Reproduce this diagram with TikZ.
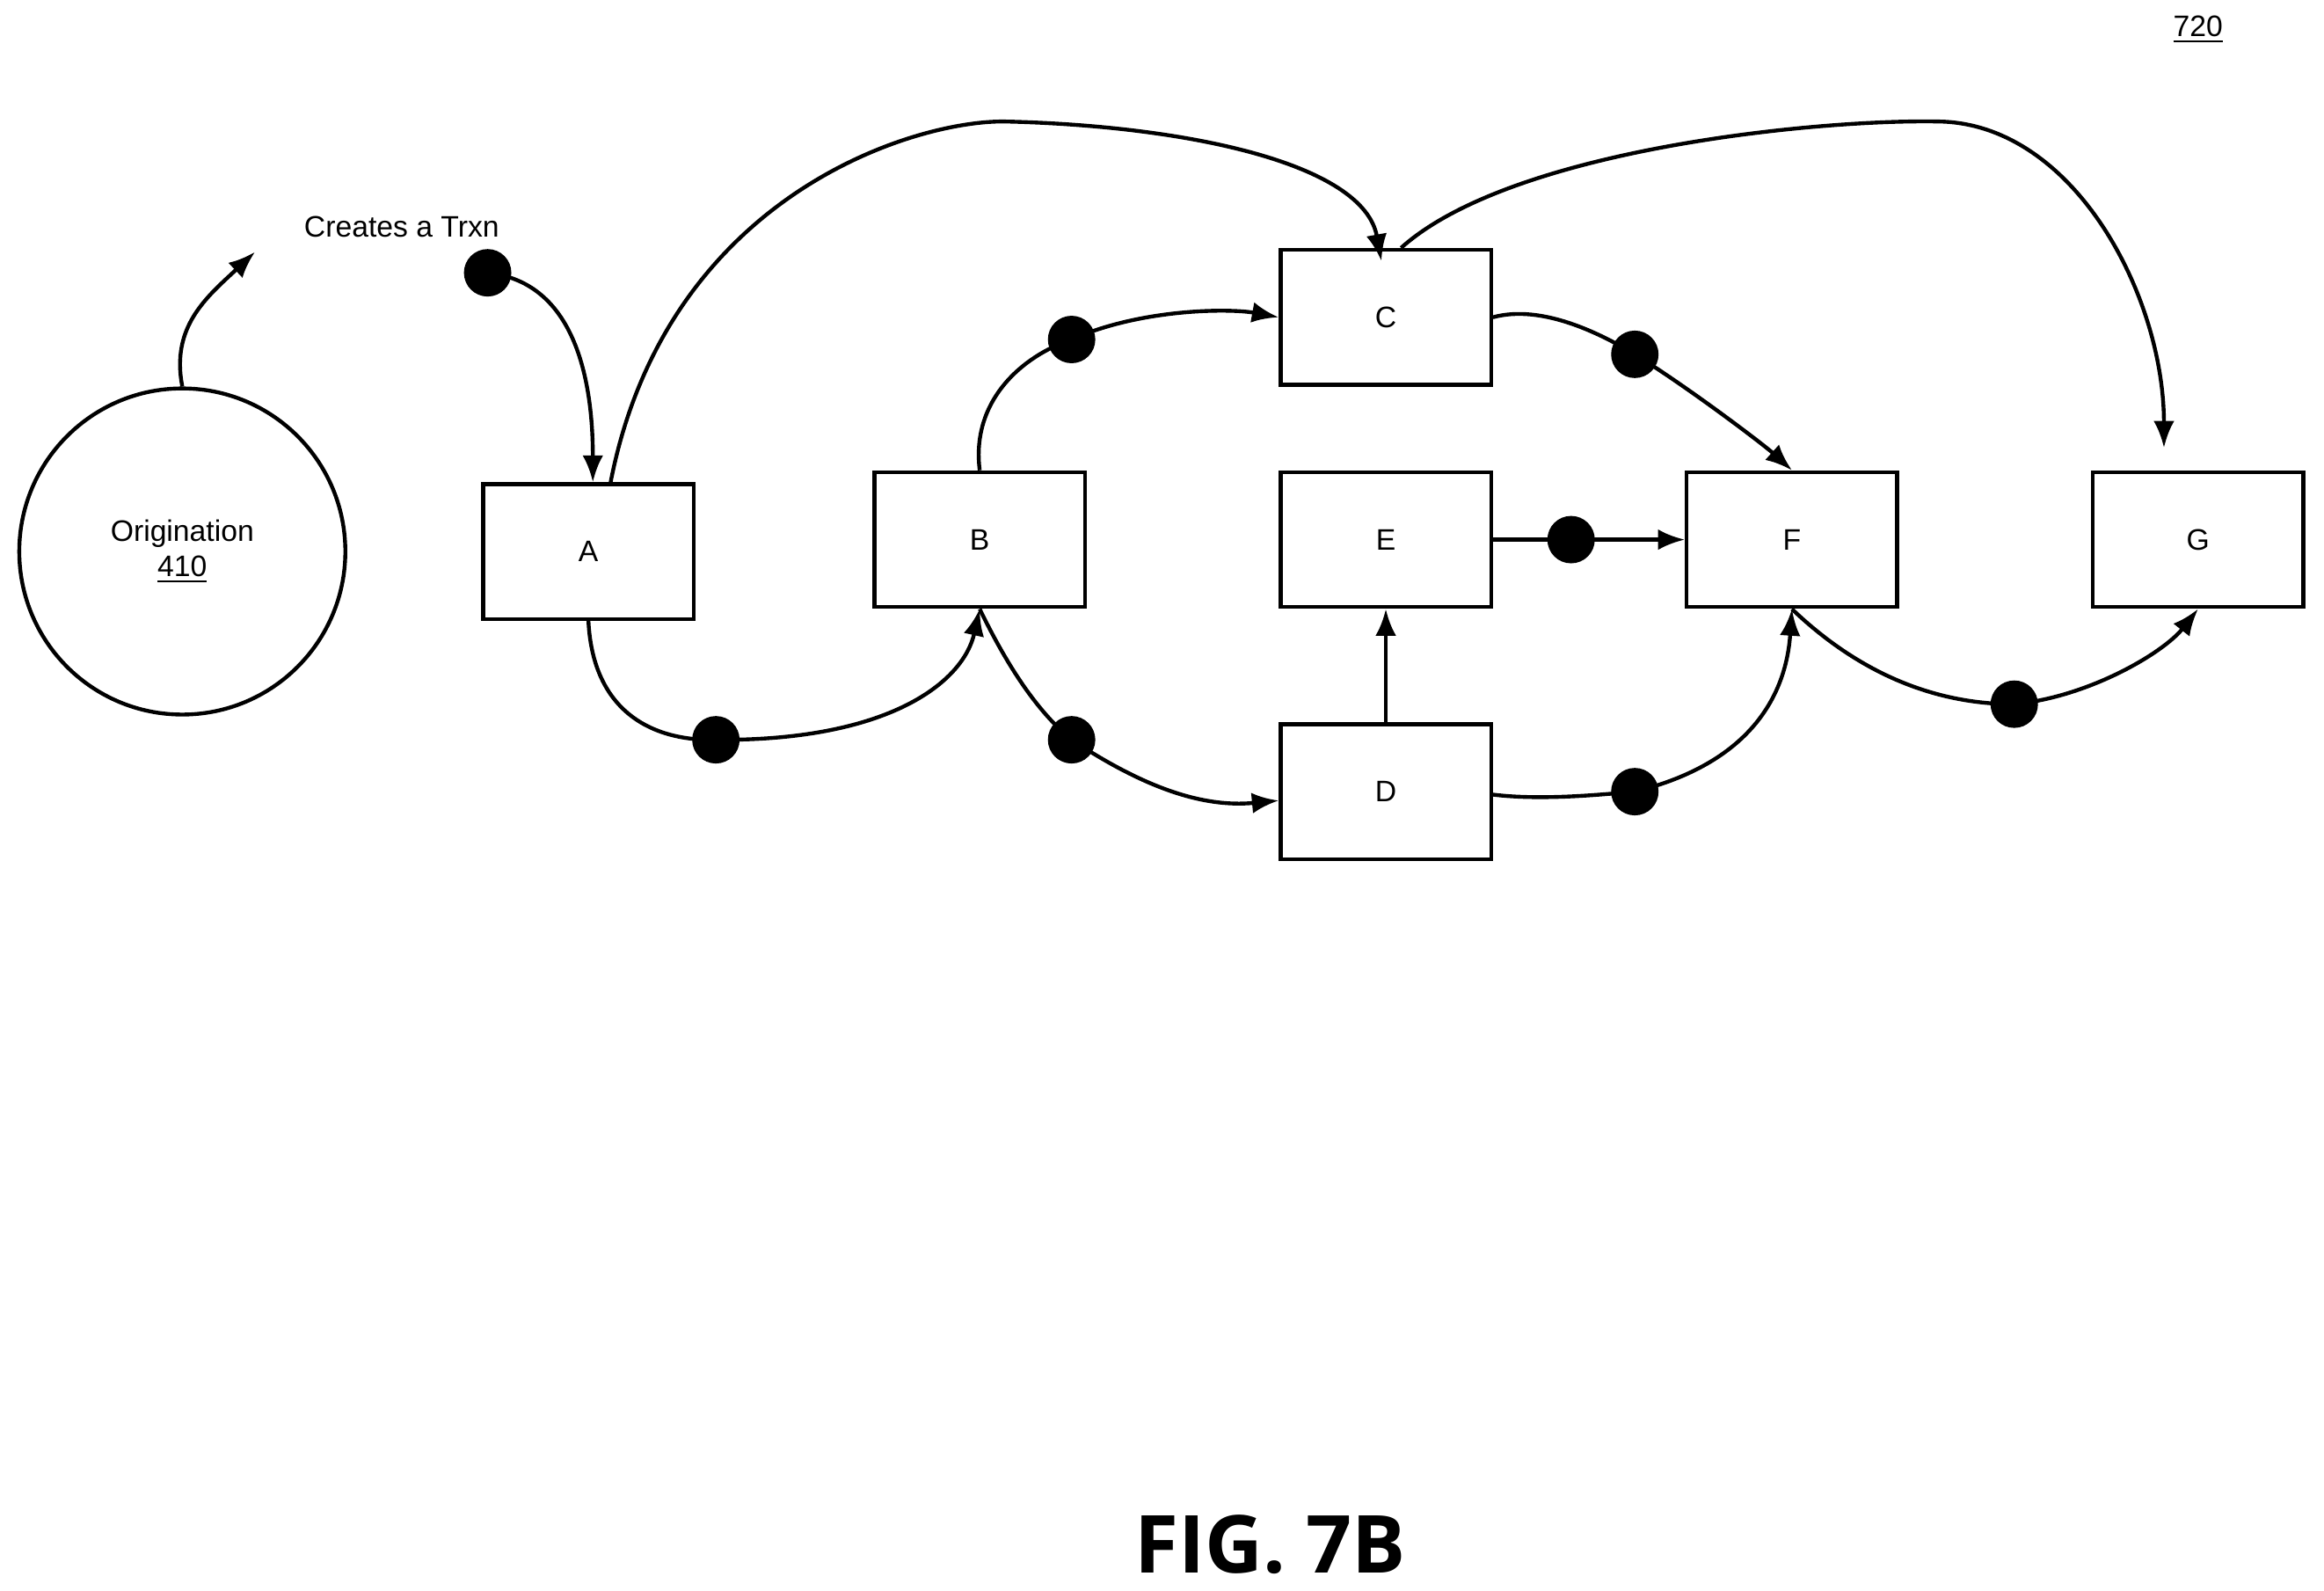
\documentclass[tikz,border=0pt]{standalone}
\usepackage{fontspec}
\setmainfont{Liberation Sans}
\newfontfamily\figfont{Open Sans}
\usetikzlibrary{arrows.meta}
\begin{document}
\begin{tikzpicture}[x=0.5pt,y=-0.5pt,line width=1.3pt,
  box/.style={draw,minimum width=71pt,minimum height=45.5pt,inner sep=0pt,font=\fontsize{10}{12}\selectfont},
  dot/.style={circle,fill=black,inner sep=0pt,minimum size=16pt},
  arr/.style={-{Latex[length=9pt,width=7pt]}},
  lbl/.style={font=\fontsize{10}{12}\selectfont}]
\useasboundingbox (0,0) rectangle (1568,1073);
\node[circle,draw,minimum size=110pt,align=center,lbl] (O) at (123,372) {Origination\\\underline{410}};
\node[box] (A) at (397,372) {A};
\node[box] (B) at (661,364) {B};
\node[box] (C) at (935,214) {C};
\node[box] (E) at (935,364) {E};
\node[box] (D) at (935,534) {D};
\node[box] (F) at (1209,364) {F};
\node[box] (G) at (1483,364) {G};
\node[lbl] (T) at (271,153) {Creates a Trxn};
\node[lbl] (N) at (1483,20) {\underline{720}};
\node[font=\figfont\bfseries\fontsize{27}{30}\selectfont] (fig) at (857,1042) {FIG. 7B};
\coordinate (ot) at (172,170);
\node[dot] (d0) at (329,184) {};
\node[dot] (d1) at (483,499) {};
\node[dot] (d2) at (723,229) {};
\node[dot] (d3) at (723,499) {};
\node[dot] (d4) at (1103,239) {};
\node[dot] (d5) at (1060,364) {};
\node[dot] (d6) at (1103,534) {};
\node[dot] (d7) at (1359,475) {};
\coordinate (gt) at (1460,302);
\draw[arr] (O.north) .. controls (115,220) and (140,200) .. (ot);
\draw[arr] (d0.center) .. controls (385,190) and (400,250) .. ([xshift=1.5pt]A.north);
\draw[arr] ([xshift=7.5pt]A.north) .. controls (450,130) and (620,80) .. (680,82) .. controls (800,85) and (920,110) .. (932,176);
\draw (A.south) .. controls (400,480) and (440,500) .. (d1.center);
\draw[arr] (d1.center) .. controls (600,500) and (650,460) .. (B.south);
\draw (B.north) .. controls (655,270) and (690,240) .. (d2.center);
\draw[arr] (d2.center) .. controls (770,208) and (830,208) .. (C.west);
\draw (B.south) .. controls (680,450) and (700,480) .. (d3.center);
\draw[arr] (d3.center) .. controls (770,530) and (810,545) .. ([yshift=-3pt]D.west);
\draw (C.east) .. controls (1040,205) and (1080,225) .. (d4.center);
\draw[arr] (d4.center) .. controls (1140,262) and (1190,300) .. (F.north);
\draw (1030,214) (C.north east) ++(-31pt,0) coordinate (ct);
\draw[arr] (ct) .. controls (1020,100) and (1230,80) .. (1310,82) .. controls (1400,85) and (1460,200) .. (gt);
\draw (E.east) -- (d5.center);
\draw[arr] (d5.center) -- (F.west);
\draw[arr] (D.north) -- (E.south);
\draw ([yshift=-1pt]D.east) .. controls (1040,540) and (1080,536) .. (d6.center);
\draw[arr] (d6.center) .. controls (1180,515) and (1205,470) .. (F.south);
\draw (F.south) .. controls (1250,450) and (1300,475) .. (d7.center);
\draw[arr] (d7.center) .. controls (1410,470) and (1460,440) .. (G.south);
\end{tikzpicture}
\end{document}
